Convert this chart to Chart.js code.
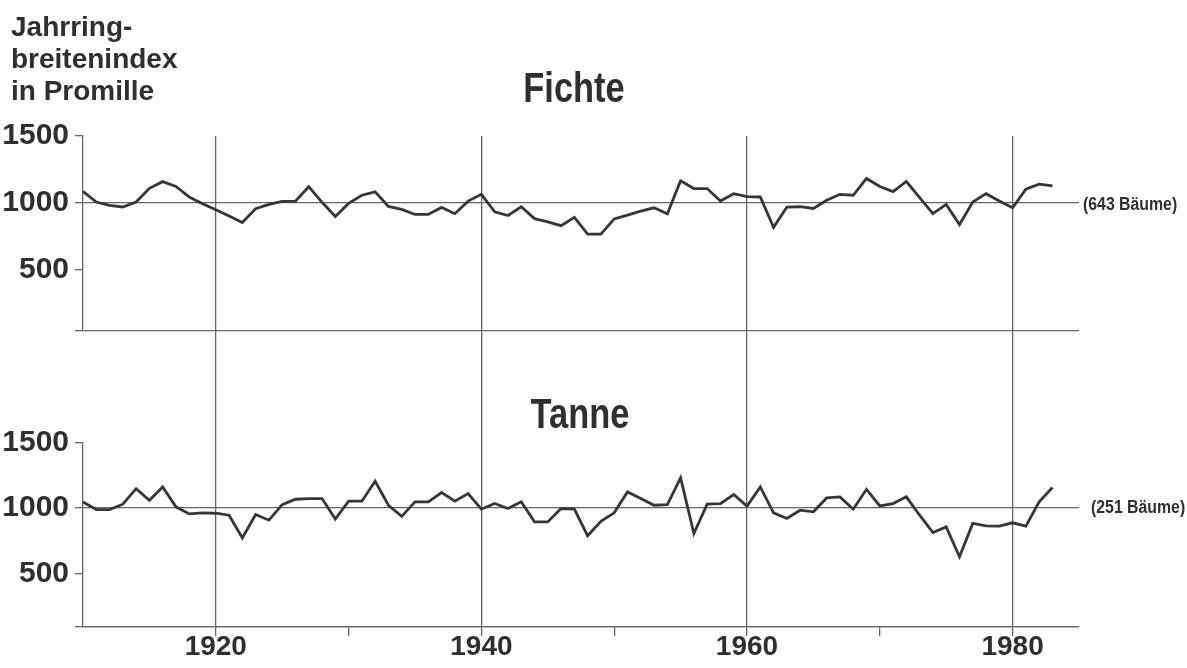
<!DOCTYPE html>
<html lang="de">
<head>
<meta charset="utf-8">
<title>Jahrringbreitenindex Fichte und Tanne</title>
<script src="https://cdn.jsdelivr.net/npm/chart.js@4.4.1/dist/chart.umd.min.js"></script>
<style>
  html, body { margin: 0; background: #fff; }
  #wrap { position: relative; width: 1187px; height: 668px; }
  #wrap canvas { position: absolute; left: 0; top: 0; }
  .txt {
    position: absolute;
    color: #2f2f2f;
    font-family: "Liberation Sans", Arial, sans-serif;
    font-weight: bold;
    white-space: nowrap;
  }
  #ylab { left: 11px; top: 11px; font-size: 28px; line-height: 32px; }
  /* narrow look of the original lettering */
  .panel { font-size: 42px; line-height: 42px; transform: translateX(-50%) scaleX(0.82); }
  #tFichte { left: 574px; top: 67px; }
  #tTanne { left: 580px; top: 393px; }
  .note { font-size: 18px; line-height: 18px; transform-origin: left center; transform: scaleX(0.88); }
  #nFichte { left: 1083px; top: 195px; }
  #nTanne { left: 1091px; top: 498px; }
</style>
</head>
<body>
<div id="wrap">
  <canvas id="ringChart"></canvas>
  <div class="txt" id="ylab">Jahrring-<br>breitenindex<br>in Promille</div>
  <div class="txt panel" id="tFichte">Fichte</div>
  <div class="txt panel" id="tTanne">Tanne</div>
  <div class="txt note" id="nFichte">(643 Bäume)</div>
  <div class="txt note" id="nTanne">(251 Bäume)</div>
</div>
<script>
// years 1910 - 1983
const years = [
  1910, 1911, 1912, 1913, 1914, 1915, 1916, 1917, 1918, 1919,
  1920, 1921, 1922, 1923, 1924, 1925, 1926, 1927, 1928, 1929,
  1930, 1931, 1932, 1933, 1934, 1935, 1936, 1937, 1938, 1939,
  1940, 1941, 1942, 1943, 1944, 1945, 1946, 1947, 1948, 1949,
  1950, 1951, 1952, 1953, 1954, 1955, 1956, 1957, 1958, 1959,
  1960, 1961, 1962, 1963, 1964, 1965, 1966, 1967, 1968, 1969,
  1970, 1971, 1972, 1973, 1974, 1975, 1976, 1977, 1978, 1979,
  1980, 1981, 1982, 1983
];

// Jahrringbreitenindex in Promille
const fichte = [
  1085, 1005, 980, 968, 1005, 1108, 1158, 1122, 1042, 993,
  948, 900, 852, 956, 988, 1010, 1012, 1120, 1003, 897,
  995, 1056, 1082, 972, 950, 912, 912, 965, 918, 1012,
  1063, 932, 904, 970, 881, 856, 828, 891, 765, 765,
  879, 907, 937, 962, 917, 1164, 1106, 1106, 1013, 1068,
  1045, 1043, 816, 967, 970, 957, 1018, 1063, 1056, 1182,
  1122, 1083, 1159, 1038, 919, 987, 836, 1005, 1068, 1013,
  962, 1101, 1139, 1126
];

const tanne = [
  1046, 987, 987, 1028, 1147, 1058, 1160, 1008, 954, 962,
  959, 944, 771, 949, 906, 1025, 1066, 1071, 1071, 914,
  1051, 1051, 1203, 1020, 935, 1046, 1046, 1117, 1051, 1109,
  990, 1033, 995, 1046, 893, 893, 995, 990, 787, 898,
  962, 1122, 1071, 1020, 1025, 1229, 804, 1028, 1033, 1102,
  1013, 1160, 962, 919, 982, 970, 1076, 1084, 990, 1142,
  1015, 1033, 1084, 944, 812, 855, 627, 881, 863, 860,
  886, 860, 1046, 1155
];

const xTicks = [1910, 1920, 1930, 1940, 1950, 1960, 1970, 1980];
const yLabels = [500, 1000, 1500];

const lineColor = '#363636';
const gridColor = '#666';
const textColor = '#2f2f2f';
const none = 'rgba(0,0,0,0)';
const fontFamily = '"Liberation Sans", Arial, sans-serif';

function toPoints(values) {
  return values.map((v, i) => ({ x: years[i], y: v }));
}

// y axis for one panel: ticks at bottom edge, 500, 1000, 1500
function panelAxis(min, weight) {
  return {
    type: 'linear',
    position: 'left',
    stack: 'panels',
    stackWeight: weight,
    min: min,
    max: 1500,
    afterBuildTicks: s => { s.ticks = [min].concat(yLabels).map(v => ({ value: v })); },
    afterFit: s => { s.width = 83; },
    border: { color: gridColor, width: 1.3 },
    grid: {
      color: c => (c.tick && (c.tick.value === 1000 || c.tick.value === min)) ? gridColor : none,
      tickColor: gridColor,
      lineWidth: 1.3,
      tickLength: 8
    },
    ticks: {
      autoSkip: false,
      color: textColor,
      font: { family: fontFamily, size: 30, weight: 'bold' },
      padding: 6,
      callback: v => yLabels.includes(v) ? String(v) : ''
    }
  };
}

new Chart(document.getElementById('ringChart'), {
  type: 'line',
  data: {
    datasets: [
      { label: 'Fichte', data: toPoints(fichte), yAxisID: 'yF' },
      { label: 'Tanne', data: toPoints(tanne), yAxisID: 'yT' }
    ]
  },
  options: {
    responsive: true,
    maintainAspectRatio: false,
    animation: false,
    layout: { padding: { top: 136, right: 108, left: 0, bottom: 0 }, autoPadding: false },
    elements: {
      line: { borderColor: lineColor, borderWidth: 2.8, tension: 0, fill: false },
      point: { radius: 0 }
    },
    plugins: { legend: { display: false }, tooltip: { enabled: false } },
    scales: {
      x: {
        type: 'linear',
        min: 1910,
        max: 1985,
        afterBuildTicks: s => { s.ticks = xTicks.map(v => ({ value: v })); },
        afterFit: s => { s.height = 41; },
        border: { color: gridColor, width: 1.3 },
        grid: {
          color: c => (c.tick && c.tick.value % 20 === 0) ? gridColor : none,
          tickColor: c => (c.tick && c.tick.value === 1910) ? none : gridColor,
          lineWidth: 1.3,
          tickLength: 9
        },
        ticks: {
          autoSkip: false,
          maxRotation: 0,
          color: textColor,
          font: { family: fontFamily, size: 28, weight: 'bold' },
          padding: -6,
          callback: v => v % 20 === 0 ? String(v) : ''
        }
      },
      // stacked from bottom to top
      yT: panelAxis(90, 184.7),
      yGap: { type: 'linear', position: 'left', stack: 'panels', stackWeight: 112.3, display: false },
      yF: panelAxis(45, 194.3)
    }
  }
});
</script>
</body>
</html>
